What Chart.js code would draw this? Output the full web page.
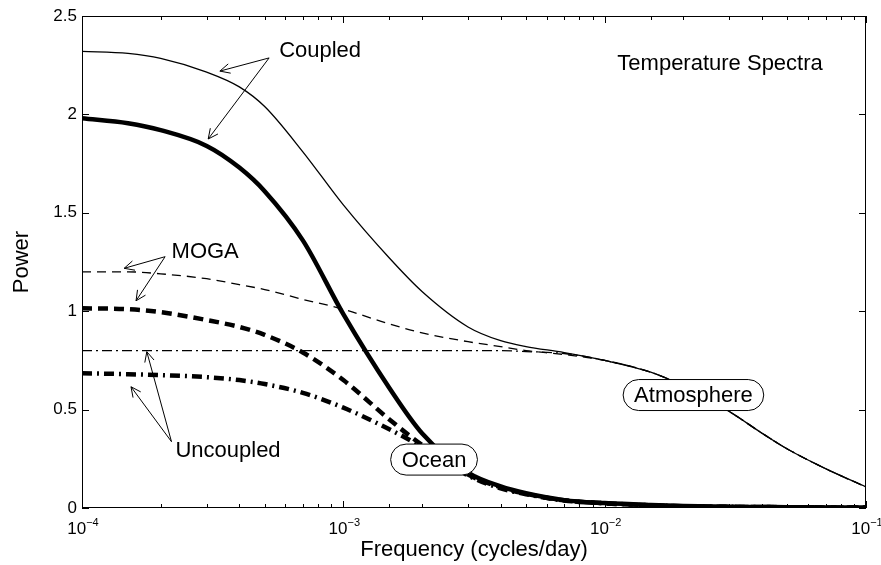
<!DOCTYPE html>
<html>
<head>
<meta charset="utf-8">
<script src="https://cdn.jsdelivr.net/npm/chart.js@4.4.1/dist/chart.umd.min.js"></script>
<style>
    html, body { margin: 0; padding: 0; background: #fff; }
</style>
</head>
<body>
<canvas id="chart-1" width="881" height="565"></canvas>
<script>
// frequency grid (cycles/day) and power
const frequency = [1e-4, 1.5e-4, 2e-4, 3e-4, 4e-4, 5e-4, 7e-4, 1e-3, 1.5e-3, 2e-3, 3e-3, 4e-3,
    5e-3, 7e-3, 1e-2, 1.5e-2, 2e-2, 3e-2, 4e-2, 5e-2, 7e-2, 1e-1];

const atmCoupled = [2.32, 2.31, 2.285, 2.215, 2.14, 2.04, 1.81, 1.54, 1.27, 1.10, 0.92, 0.85,
    0.82, 0.79, 0.75, 0.69, 0.62, 0.49, 0.38, 0.30, 0.20, 0.107];
const atmMoga = [1.20, 1.20, 1.19, 1.165, 1.135, 1.11, 1.06, 1.01, 0.935, 0.89, 0.845, 0.82,
    0.80, 0.78, 0.75, 0.69, 0.62, 0.49, 0.38, 0.30, 0.20, 0.107];
const atmUncoupled = [0.80, 0.80, 0.80, 0.80, 0.80, 0.80, 0.80, 0.80, 0.80, 0.80, 0.80, 0.80,
    0.795, 0.785, 0.75, 0.69, 0.62, 0.49, 0.38, 0.30, 0.20, 0.107];

const oceanCoupled = [1.98, 1.955, 1.92, 1.84, 1.73, 1.61, 1.36, 0.985, 0.61, 0.38, 0.18, 0.11,
    0.075, 0.04, 0.025, 0.015, 0.01, 0.006, 0.005, 0.004, 0.003, 0.002];
const oceanMoga = [1.015, 1.01, 0.995, 0.955, 0.92, 0.88, 0.79, 0.65, 0.45, 0.32, 0.17, 0.105,
    0.072, 0.039, 0.024, 0.014, 0.009, 0.006, 0.005, 0.004, 0.003, 0.002];
const oceanUncoupled = [0.685, 0.68, 0.675, 0.665, 0.65, 0.63, 0.585, 0.51, 0.40, 0.31, 0.165, 0.10,
    0.07, 0.038, 0.024, 0.014, 0.009, 0.006, 0.005, 0.004, 0.003, 0.002];

const yTicks = [0, 0.5, 1, 1.5, 2, 2.5];

// annotations, in data coordinates
const notes = [
    { text: "Coupled", x: 8.15e-4, y: 2.327 },
    { text: "MOGA", x: 2.96e-4, y: 1.306 },
    { text: "Uncoupled", x: 3.62e-4, y: 0.295 },
    { text: "Temperature Spectra", x: 2.764e-2, y: 2.259 },
];
const boxes = [
    { text: "Ocean", x: 2.224e-3, y: 0.246 },
    { text: "Atmosphere", x: 2.186e-2, y: 0.574 },
];
const arrows = [
    { from: [5.2e-4, 2.287], to: [3.37e-4, 2.22] },
    { from: [5.2e-4, 2.287], to: [3.04e-4, 1.875] },
    { from: [2.08e-4, 1.277], to: [1.45e-4, 1.218] },
    { from: [2.08e-4, 1.277], to: [1.61e-4, 1.053] },
    { from: [2.2e-4, 0.337], to: [1.54e-4, 0.616] },
    { from: [2.2e-4, 0.337], to: [1.77e-4, 0.794] },
];

const FONT = '"Liberation Sans", Arial, Helvetica, sans-serif';
Chart.defaults.font.family = FONT;
Chart.defaults.color = "#000";

function pts(arr) {
    return frequency.map((f, i) => ({ x: f, y: arr[i] }));
}
function line(arr, width, dash) {
    return {
        data: pts(arr),
        borderColor: "#000",
        borderWidth: width,
        borderDash: dash,
        pointRadius: 0,
        fill: false,
        cubicInterpolationMode: "monotone",
    };
}
const isDecade = (v) => Math.abs(Math.log10(v) - Math.round(Math.log10(v))) < 1e-6;

const frame = {
    id: "frame",
    afterDraw(chart) {
        const { ctx, chartArea: a, scales: { x, y } } = chart;
        ctx.save();
        ctx.strokeStyle = "#000";
        ctx.lineWidth = 1;
        ctx.strokeRect(a.left + 0.5, a.top + 0.5, a.right - a.left - 1, a.bottom - a.top - 1);

        ctx.beginPath();
        x.ticks.forEach((t) => {
            const px = Math.round(x.getPixelForValue(t.value)) + 0.5;
            const len = isDecade(t.value) ? 7 : 4;
            ctx.moveTo(px, a.bottom); ctx.lineTo(px, a.bottom - len);
            ctx.moveTo(px, a.top); ctx.lineTo(px, a.top + len);
        });
        yTicks.forEach((v) => {
            const py = Math.round(y.getPixelForValue(v)) + 0.5;
            ctx.moveTo(a.left, py); ctx.lineTo(a.left + 7, py);
            ctx.moveTo(a.right, py); ctx.lineTo(a.right - 7, py);
        });
        ctx.stroke();

        // decade labels 10^n
        x.ticks.filter((t) => isDecade(t.value)).forEach((t) => {
            const px = x.getPixelForValue(t.value);
            const exp = "\u2212" + Math.abs(Math.round(Math.log10(t.value)));
            ctx.font = "17px " + FONT;
            const w1 = ctx.measureText("10").width;
            ctx.font = "11px " + FONT;
            const w2 = ctx.measureText(exp).width;
            const start = px - (w1 + w2) / 2 + 1;
            ctx.fillStyle = "#000";
            ctx.textAlign = "left";
            ctx.textBaseline = "alphabetic";
            ctx.font = "17px " + FONT;
            ctx.fillText("10", start, 534);
            ctx.font = "11px " + FONT;
            ctx.fillText(exp, start + w1, 526);
        });

        // arrows
        ctx.lineWidth = 1;
        arrows.forEach((ar) => {
            const x0 = x.getPixelForValue(ar.from[0]), y0 = y.getPixelForValue(ar.from[1]);
            const x1 = x.getPixelForValue(ar.to[0]), y1 = y.getPixelForValue(ar.to[1]);
            const ang = Math.atan2(y1 - y0, x1 - x0);
            ctx.beginPath();
            ctx.moveTo(x0, y0); ctx.lineTo(x1, y1);
            [0.45, -0.45].forEach((d) => {
                ctx.moveTo(x1, y1);
                ctx.lineTo(x1 - 11 * Math.cos(ang + d), y1 - 11 * Math.sin(ang + d));
            });
            ctx.stroke();
        });

        ctx.font = "22px " + FONT;
        ctx.textAlign = "center";
        ctx.textBaseline = "middle";
        ctx.fillStyle = "#000";
        notes.forEach((n) => {
            ctx.fillText(n.text, x.getPixelForValue(n.x), y.getPixelForValue(n.y) + 1);
        });

        boxes.forEach((b) => {
            const cx = x.getPixelForValue(b.x), cy = y.getPixelForValue(b.y);
            const w = ctx.measureText(b.text).width + 22, h = 31;
            ctx.beginPath();
            ctx.roundRect(cx - w / 2, cy - h / 2, w, h, h / 2);
            ctx.fillStyle = "#fff";
            ctx.fill();
            ctx.stroke();
            ctx.fillStyle = "#000";
            ctx.fillText(b.text, cx, cy + 1);
        });
        ctx.restore();
    },
};

const ctx1 = document.getElementById("chart-1").getContext("2d");
const myChart = new Chart(ctx1, {
    type: "line",
    data: {
        datasets: [
            line(atmCoupled, 1.3, []),
            line(atmMoga, 1.3, [9, 6]),
            line(atmUncoupled, 1.3, [10, 4, 2, 4]),
            line(oceanCoupled, 4.5, []),
            line(oceanMoga, 4.5, [10, 6]),
            line(oceanUncoupled, 4.5, [10, 5, 2, 5]),
        ],
    },
    options: {
        responsive: false,
        animation: false,
        layout: { padding: { top: 16, right: 15, left: 0, bottom: 0 } },
        plugins: { legend: { display: false }, tooltip: { enabled: false } },
        scales: {
            x: {
                type: "logarithmic",
                min: 1e-4,
                max: 1e-1,
                grid: { display: false, drawTicks: false },
                border: { display: false },
                ticks: { display: false },
                title: {
                    display: true,
                    text: "Frequency (cycles/day)",
                    font: { size: 22 },
                    padding: { top: 0, bottom: 2 },
                },
                afterFit(s) { s.height = 57; s.paddingLeft = 0; s.paddingRight = 0; },
            },
            y: {
                min: 0,
                max: 2.5,
                afterBuildTicks(s) { s.ticks = yTicks.map((v) => ({ value: v })); },
                ticks: { font: { size: 17 }, padding: 5, callback: (v) => String(v) },
                grid: { display: false, drawTicks: false },
                border: { display: false },
                title: {
                    display: true,
                    text: "Power",
                    font: { size: 22 },
                    padding: { top: 9, bottom: 0 },
                },
                afterFit(s) { s.width = 82; s.paddingTop = 0; s.paddingBottom = 0; },
            },
        },
    },
    plugins: [frame],
});
</script>
</body>
</html>
